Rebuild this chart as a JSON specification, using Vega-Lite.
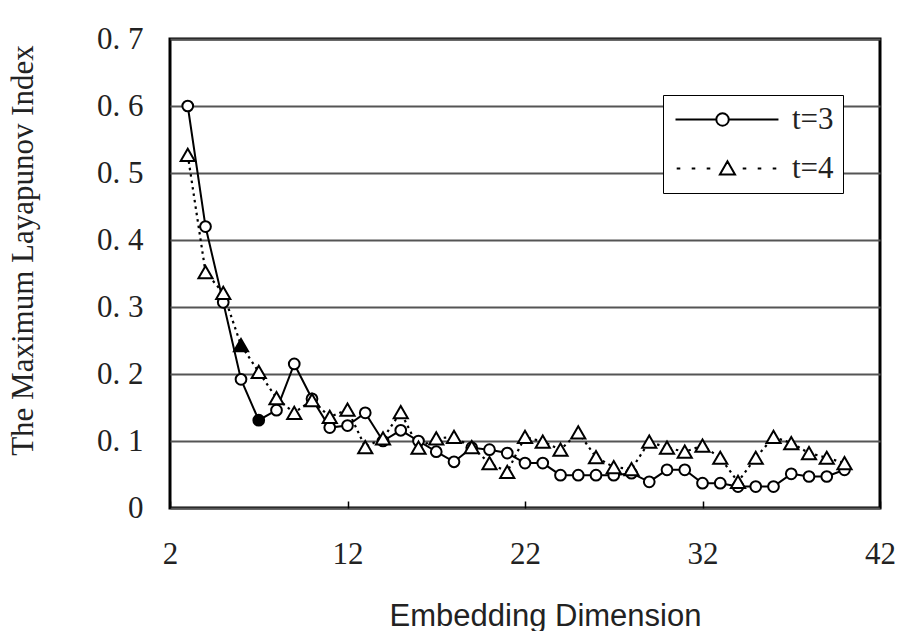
{
  "$schema": "https://vega.github.io/schema/vega-lite/v6.json",
  "width": 710,
  "height": 469,
  "autosize": {"type": "none"},
  "padding": {"left": 170, "top": 39, "right": 22, "bottom": 123},
  "background": "white",
  "config": {
    "view": {"stroke": "black", "strokeWidth": 3},
    "axis": {"labelFont": "Liberation Serif", "labelFontSize": 31, "labelColor": "#222", "titleColor": "#222", "titleFontWeight": "normal", "labelFlush": false}
  },
  "data": {
    "values": [
      {"dim": 3, "lyap": 0.600, "series": "t=3", "highlight": false},
      {"dim": 4, "lyap": 0.420, "series": "t=3", "highlight": false},
      {"dim": 5, "lyap": 0.307, "series": "t=3", "highlight": false},
      {"dim": 6, "lyap": 0.192, "series": "t=3", "highlight": false},
      {"dim": 7, "lyap": 0.131, "series": "t=3", "highlight": true},
      {"dim": 8, "lyap": 0.146, "series": "t=3", "highlight": false},
      {"dim": 9, "lyap": 0.215, "series": "t=3", "highlight": false},
      {"dim": 10, "lyap": 0.163, "series": "t=3", "highlight": false},
      {"dim": 11, "lyap": 0.120, "series": "t=3", "highlight": false},
      {"dim": 12, "lyap": 0.123, "series": "t=3", "highlight": false},
      {"dim": 13, "lyap": 0.142, "series": "t=3", "highlight": false},
      {"dim": 14, "lyap": 0.100, "series": "t=3", "highlight": false},
      {"dim": 15, "lyap": 0.116, "series": "t=3", "highlight": false},
      {"dim": 16, "lyap": 0.100, "series": "t=3", "highlight": false},
      {"dim": 17, "lyap": 0.084, "series": "t=3", "highlight": false},
      {"dim": 18, "lyap": 0.069, "series": "t=3", "highlight": false},
      {"dim": 19, "lyap": 0.090, "series": "t=3", "highlight": false},
      {"dim": 20, "lyap": 0.087, "series": "t=3", "highlight": false},
      {"dim": 21, "lyap": 0.082, "series": "t=3", "highlight": false},
      {"dim": 22, "lyap": 0.067, "series": "t=3", "highlight": false},
      {"dim": 23, "lyap": 0.067, "series": "t=3", "highlight": false},
      {"dim": 24, "lyap": 0.049, "series": "t=3", "highlight": false},
      {"dim": 25, "lyap": 0.049, "series": "t=3", "highlight": false},
      {"dim": 26, "lyap": 0.049, "series": "t=3", "highlight": false},
      {"dim": 27, "lyap": 0.049, "series": "t=3", "highlight": false},
      {"dim": 28, "lyap": 0.052, "series": "t=3", "highlight": false},
      {"dim": 29, "lyap": 0.039, "series": "t=3", "highlight": false},
      {"dim": 30, "lyap": 0.057, "series": "t=3", "highlight": false},
      {"dim": 31, "lyap": 0.057, "series": "t=3", "highlight": false},
      {"dim": 32, "lyap": 0.037, "series": "t=3", "highlight": false},
      {"dim": 33, "lyap": 0.037, "series": "t=3", "highlight": false},
      {"dim": 34, "lyap": 0.032, "series": "t=3", "highlight": false},
      {"dim": 35, "lyap": 0.032, "series": "t=3", "highlight": false},
      {"dim": 36, "lyap": 0.032, "series": "t=3", "highlight": false},
      {"dim": 37, "lyap": 0.051, "series": "t=3", "highlight": false},
      {"dim": 38, "lyap": 0.047, "series": "t=3", "highlight": false},
      {"dim": 39, "lyap": 0.047, "series": "t=3", "highlight": false},
      {"dim": 40, "lyap": 0.057, "series": "t=3", "highlight": false},
      {"dim": 3, "lyap": 0.527, "series": "t=4", "highlight": false},
      {"dim": 4, "lyap": 0.352, "series": "t=4", "highlight": false},
      {"dim": 5, "lyap": 0.321, "series": "t=4", "highlight": false},
      {"dim": 6, "lyap": 0.243, "series": "t=4", "highlight": true},
      {"dim": 7, "lyap": 0.203, "series": "t=4", "highlight": false},
      {"dim": 8, "lyap": 0.164, "series": "t=4", "highlight": false},
      {"dim": 9, "lyap": 0.142, "series": "t=4", "highlight": false},
      {"dim": 10, "lyap": 0.161, "series": "t=4", "highlight": false},
      {"dim": 11, "lyap": 0.136, "series": "t=4", "highlight": false},
      {"dim": 12, "lyap": 0.147, "series": "t=4", "highlight": false},
      {"dim": 13, "lyap": 0.091, "series": "t=4", "highlight": false},
      {"dim": 14, "lyap": 0.104, "series": "t=4", "highlight": false},
      {"dim": 15, "lyap": 0.143, "series": "t=4", "highlight": false},
      {"dim": 16, "lyap": 0.090, "series": "t=4", "highlight": false},
      {"dim": 17, "lyap": 0.104, "series": "t=4", "highlight": false},
      {"dim": 18, "lyap": 0.106, "series": "t=4", "highlight": false},
      {"dim": 19, "lyap": 0.091, "series": "t=4", "highlight": false},
      {"dim": 20, "lyap": 0.067, "series": "t=4", "highlight": false},
      {"dim": 21, "lyap": 0.054, "series": "t=4", "highlight": false},
      {"dim": 22, "lyap": 0.106, "series": "t=4", "highlight": false},
      {"dim": 23, "lyap": 0.099, "series": "t=4", "highlight": false},
      {"dim": 24, "lyap": 0.087, "series": "t=4", "highlight": false},
      {"dim": 25, "lyap": 0.113, "series": "t=4", "highlight": false},
      {"dim": 26, "lyap": 0.076, "series": "t=4", "highlight": false},
      {"dim": 27, "lyap": 0.061, "series": "t=4", "highlight": false},
      {"dim": 28, "lyap": 0.058, "series": "t=4", "highlight": false},
      {"dim": 29, "lyap": 0.099, "series": "t=4", "highlight": false},
      {"dim": 30, "lyap": 0.090, "series": "t=4", "highlight": false},
      {"dim": 31, "lyap": 0.084, "series": "t=4", "highlight": false},
      {"dim": 32, "lyap": 0.093, "series": "t=4", "highlight": false},
      {"dim": 33, "lyap": 0.075, "series": "t=4", "highlight": false},
      {"dim": 34, "lyap": 0.039, "series": "t=4", "highlight": false},
      {"dim": 35, "lyap": 0.075, "series": "t=4", "highlight": false},
      {"dim": 36, "lyap": 0.106, "series": "t=4", "highlight": false},
      {"dim": 37, "lyap": 0.097, "series": "t=4", "highlight": false},
      {"dim": 38, "lyap": 0.082, "series": "t=4", "highlight": false},
      {"dim": 39, "lyap": 0.075, "series": "t=4", "highlight": false},
      {"dim": 40, "lyap": 0.067, "series": "t=4", "highlight": false}
    ]
  },
  "encoding": {
    "x": {
      "field": "dim", "type": "quantitative",
      "scale": {"domain": [2, 42], "nice": false, "zero": false},
      "axis": {
        "values": [2, 12, 22, 32, 42], "grid": false, "domain": false,
        "ticks": true, "tickSize": -7, "tickColor": "black", "tickWidth": 1.5,
        "labelPadding": 38,
        "title": "Embedding Dimension", "titleFont": "Liberation Sans", "titleFontSize": 31,
        "titleX": 375, "titleY": 117, "titleBaseline": "alphabetic", "titleAlign": "center"
      }
    },
    "y": {
      "field": "lyap", "type": "quantitative",
      "scale": {"domain": [0, 0.7], "nice": false},
      "axis": {
        "values": [0, 0.1, 0.2, 0.3, 0.4, 0.5, 0.6, 0.7],
        "labelExpr": "datum.value == 0 ? '0' : replace(format(datum.value, '.1f'), '.', '. ')",
        "grid": true, "gridColor": "#555", "gridWidth": 2,
        "domain": false, "ticks": false, "labelPadding": 27,
        "title": "The Maximum Layapunov Index", "titleFont": "Liberation Serif", "titleFontSize": 31,
        "titleX": -147, "titleY": 211, "titleAngle": 270, "titleBaseline": "middle", "titleAlign": "center"
      }
    }
  },
  "layer": [
    {
      "transform": [{"filter": "datum.series == 't=3'"}],
      "mark": {"type": "line", "color": "black", "strokeWidth": 2},
      "encoding": {
        "order": {"field": "dim"},
        "opacity": {
          "field": "series", "type": "ordinal",
          "scale": {"domain": ["t=3", "t=4"], "range": [1, 1]},
          "legend": {
            "title": null, "orient": "none", "legendX": 493, "legendY": 56,
            "padding": 9, "strokeColor": "black", "fillColor": "white",
            "symbolSize": 576, "symbolStrokeWidth": 2, "symbolStrokeColor": "black",
            "symbolType": {"expr": "datum.value == 't=3' ? 'M-1,0H2.4M3.44,0H7.58M3.44,0A0.52,0.52,0,1,1,2.4,0A0.52,0.52,0,1,1,3.44,0Z' : 'M-0.9,0H-0.6M0.35,0H0.65M1.6,0H1.9M2.7,0.5L3.96,0.5L3.33,-0.6ZM4.6,0H4.9M5.85,0H6.15M7.1,0H7.4'"},
            "labelOffset": 89, "rowPadding": 17,
            "labelFont": "Liberation Serif", "labelFontSize": 31, "labelColor": "#222"
          }
        }
      }
    },
    {
      "transform": [{"filter": "datum.series == 't=4'"}],
      "mark": {"type": "line", "color": "black", "strokeWidth": 2.2, "strokeDash": [2.5, 4]},
      "encoding": {
        "order": {"field": "dim"}
      }
    },
    {
      "mark": {"type": "point", "filled": true, "stroke": "black", "strokeWidth": 2, "opacity": 1},
      "encoding": {
        "shape": {"condition": {"test": "datum.series == 't=4'", "value": "triangle-up"}, "value": "circle"},
        "size": {"condition": {"test": "datum.series == 't=4'", "value": 200}, "value": 115},
        "fill": {"condition": {"test": "datum.highlight", "value": "black"}, "value": "white"}
      }
    }
  ]
}
